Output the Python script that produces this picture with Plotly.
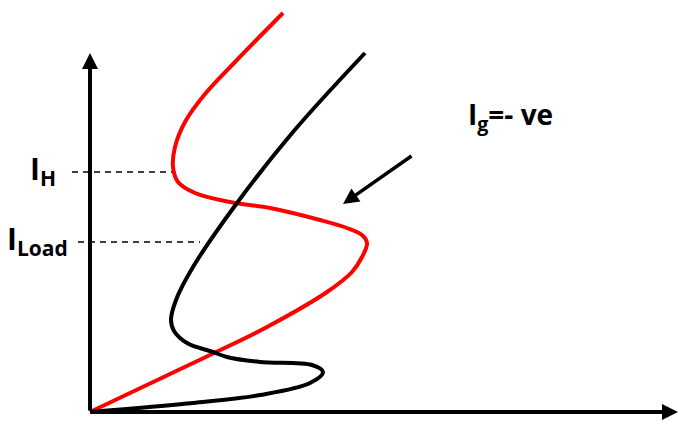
import plotly.graph_objects as go

# Coordinates: origin at the axes corner, x to the right, y upward (schematic units)
red_x = [0, 120, 177, 237, 262, 272, 277, 272, 257, 230, 180, 140, 105, 88, 83, 85, 95, 115, 145, 193]
red_y = [0, 57, 85, 120, 140, 155, 169, 177, 184, 192, 204, 210, 219, 230, 245, 265, 290, 318, 350, 399]

blk_x = [0, 103, 170, 220, 233, 222, 170, 137, 123, 97, 84, 81, 86, 103, 147, 203, 275]
blk_y = [0, 9, 17, 29, 40, 47, 50, 55, 60, 69, 81, 92, 112, 145, 209, 280, 359]

ih_level = 240
iload_level = 170
ih_x = [-18, 82]
iload_x = [-12, 110]

fig = go.Figure()
fig.add_trace(go.Scatter(x=red_x, y=red_y, mode="lines",
                         line=dict(color="#ff0000", width=4, shape="spline", smoothing=1.0), hoverinfo="skip"))
fig.add_trace(go.Scatter(x=blk_x, y=blk_y, mode="lines",
                         line=dict(color="#000000", width=4, shape="spline", smoothing=1.0), hoverinfo="skip"))
fig.add_trace(go.Scatter(x=ih_x, y=[ih_level, ih_level], mode="lines",
                         line=dict(color="black", width=1.5, dash="6px,5px"), hoverinfo="skip"))
fig.add_trace(go.Scatter(x=iload_x, y=[iload_level, iload_level], mode="lines",
                         line=dict(color="black", width=1.5, dash="6px,5px"), hoverinfo="skip"))

font = "'Open Sans', 'Noto Sans', sans-serif"
anns = [
    # y axis
    dict(x=0, y=359, ax=0, ay=0, xref="x", yref="y", axref="x", ayref="y", showarrow=True,
         arrowhead=2, arrowsize=0.8, arrowwidth=4, arrowcolor="black", text="", standoff=0),
    # x axis
    dict(x=588, y=0, ax=0, ay=0, xref="x", yref="y", axref="x", ayref="y", showarrow=True,
         arrowhead=2, arrowsize=0.8, arrowwidth=4, arrowcolor="black", text="", standoff=0),
    # Ig arrow
    dict(x=253, y=208, ax=323, ay=257, xref="x", yref="y", axref="x", ayref="y", showarrow=True,
         arrowhead=2, arrowsize=0.9, arrowwidth=3.5, arrowcolor="black", text="", standoff=0),
    dict(x=-32, y=ih_level + 2, xref="x", yref="y", showarrow=False, xanchor="right", yanchor="middle",
         text="<b>I<sub>H</sub></b>", font=dict(family=font, size=30, color="black")),
    dict(x=-20, y=iload_level + 2, xref="x", yref="y", showarrow=False, xanchor="right", yanchor="middle",
         text="<b>I<sub>Load</sub></b>", font=dict(family=font, size=30, color="black")),
    dict(x=376, y=296, xref="x", yref="y", showarrow=False, xanchor="left", yanchor="middle",
         text="<b>I<sub>g</sub>=- ve</b>", font=dict(family=font, size=28, color="black")),
]

fig.update_layout(
    width=678, height=421, margin=dict(l=0, r=0, t=0, b=0),
    paper_bgcolor="white", plot_bgcolor="white", showlegend=False,
    xaxis=dict(range=[-90, 588], visible=False, fixedrange=True),
    yaxis=dict(range=[-9, 412], visible=False, fixedrange=True),
    annotations=anns,
)
fig.write_html("out.html", config={"displayModeBar": False},
               post_script="document.body.style.margin='0';document.body.style.overflow='hidden';")
